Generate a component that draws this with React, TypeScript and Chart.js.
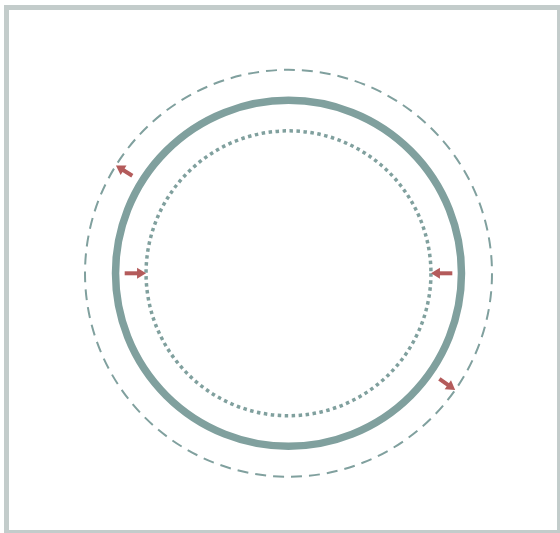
import React, { useEffect, useRef } from "react";
import { Chart, registerables } from "chart.js";

Chart.register(...registerables);

// Ring radii (relative to the outer ring)
const ringNames = ["inner", "middle", "outer"];
const ringRadii = [0.7, 0.85, 1.0];
const ringCenter = [0, 0];

// Arrows: angle (degrees), start radius, end radius
const arrowAngles = [180, 0, 148, -35];
const arrowFrom = [0.805, 0.805, 0.905, 0.905];
const arrowTo = [0.7, 0.7, 1.0, 1.0];

const RING_COLOR = "#80a09e";
const ARROW_COLOR = "#b45b5b";
const FRAME_COLOR = "#c3cccb";

const ringStyles: Record<string, { width: number; dash: number[] }> = {
  inner: { width: 3.5, dash: [3.5, 3.5] },
  middle: { width: 7.5, dash: [] },
  outer: { width: 2, dash: [11, 7] },
};

const drawPlugin = {
  id: "ringsAndArrows",
  afterDatasetsDraw(chart: any) {
    const { ctx } = chart;
    const xs = chart.scales.x;
    const ys = chart.scales.y;
    const cx = xs.getPixelForValue(ringCenter[0]);
    const cy = ys.getPixelForValue(ringCenter[1]);
    const unit = xs.getPixelForValue(1) - cx;

    ctx.save();
    // frame
    ctx.strokeStyle = FRAME_COLOR;
    ctx.lineWidth = 5;
    ctx.strokeRect(6.5, 7.5, 553, 525);

    // rings
    ringRadii.forEach((r, i) => {
      const st = ringStyles[ringNames[i]];
      ctx.beginPath();
      ctx.strokeStyle = RING_COLOR;
      ctx.lineWidth = st.width;
      ctx.setLineDash(st.dash);
      ctx.lineCap = "butt";
      ctx.arc(cx, cy, r * unit, 0, Math.PI * 2);
      ctx.stroke();
    });
    ctx.setLineDash([]);

    // arrows
    arrowAngles.forEach((deg, i) => {
      const a = (deg * Math.PI) / 180;
      const x0 = xs.getPixelForValue(arrowFrom[i] * Math.cos(a));
      const y0 = ys.getPixelForValue(arrowFrom[i] * Math.sin(a));
      const x1 = xs.getPixelForValue(arrowTo[i] * Math.cos(a));
      const y1 = ys.getPixelForValue(arrowTo[i] * Math.sin(a));
      const ang = Math.atan2(y1 - y0, x1 - x0);
      const headLen = 9;
      const headHalf = 5.5;
      const bx = x1 - headLen * Math.cos(ang);
      const by = y1 - headLen * Math.sin(ang);
      ctx.strokeStyle = ARROW_COLOR;
      ctx.fillStyle = ARROW_COLOR;
      ctx.lineWidth = 4;
      ctx.beginPath();
      ctx.moveTo(x0, y0);
      ctx.lineTo(bx + Math.cos(ang), by + Math.sin(ang));
      ctx.stroke();
      ctx.beginPath();
      ctx.moveTo(x1, y1);
      ctx.lineTo(bx - headHalf * Math.sin(ang), by + headHalf * Math.cos(ang));
      ctx.lineTo(bx + headHalf * Math.sin(ang), by - headHalf * Math.cos(ang));
      ctx.closePath();
      ctx.fill();
    });
    ctx.restore();
  },
};

export default function App() {
  const ref = useRef<HTMLCanvasElement | null>(null);
  useEffect(() => {
    if (!ref.current) return;
    const unitPx = 203.5;
    const cxPx = 288.5;
    const cyPx = 273.3;
    const chart = new Chart(ref.current, {
      type: "scatter",
      data: {
        datasets: [
          {
            data: [{ x: ringCenter[0], y: ringCenter[1] }],
            pointRadius: 0,
          },
        ],
      },
      options: {
        animation: false,
        responsive: false,
        devicePixelRatio: 1,
        layout: { padding: 0 },
        plugins: { legend: { display: false }, tooltip: { enabled: false } },
        scales: {
          x: {
            type: "linear",
            display: false,
            min: -cxPx / unitPx,
            max: (560 - cxPx) / unitPx,
          },
          y: {
            type: "linear",
            display: false,
            min: -(533 - cyPx) / unitPx,
            max: cyPx / unitPx,
          },
        },
      },
      plugins: [drawPlugin],
    });
    return () => chart.destroy();
  }, []);
  return (
    <div style={{ position: "fixed", left: 0, top: 0, width: 560, height: 533, background: "#fff" }}>
      <canvas ref={ref} width={560} height={533} style={{ display: "block" }} />
    </div>
  );
}
